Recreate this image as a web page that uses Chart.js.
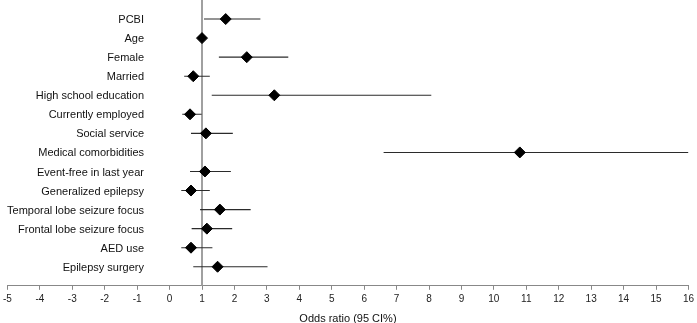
<!DOCTYPE html>
<html>
<head>
<meta charset="utf-8">
<script src="https://cdn.jsdelivr.net/npm/chart.js@4.4.0/dist/chart.umd.min.js"></script>
<style>
  html, body { margin: 0; padding: 0; background: #fff; }
  #wrap { width: 697px; height: 323px; }
</style>
</head>
<body>
<div id="wrap"><canvas id="forest"></canvas></div>
<script>
// 변수 이름 (위에서 아래로)
const factors = [
    "PCBI", "Age", "Female", "Married", "High school education",
    "Currently employed", "Social service", "Medical comorbidities",
    "Event-free in last year", "Generalized epilepsy",
    "Temporal lobe seizure focus", "Frontal lobe seizure focus",
    "AED use", "Epilepsy surgery"
];
// odds ratio + 95% CI
const oddsRatio = [1.73, 1.0, 2.38, 0.73, 3.23, 0.63, 1.12, 10.8, 1.09, 0.66, 1.55, 1.15, 0.66, 1.48];
const ciLow     = [1.06, 0.98, 1.52, 0.45, 1.3, 0.39, 0.66, 6.6, 0.63, 0.36, 0.94, 0.68, 0.36, 0.73];
const ciHigh    = [2.8, 1.02, 3.66, 1.24, 8.07, 0.99, 1.95, 16, 1.89, 1.24, 2.5, 1.93, 1.32, 3.02];
const xTicks = [-5, 16];
const refLine = 1; // 기준선

const FONT = "Liberation Sans, Arial, Helvetica, sans-serif";

// CI 선 - 행마다 dataset 하나
const ciSets = factors.map((f, i) => ({
    type: "line",
    data: [{ x: ciLow[i], y: i + 1 }, { x: ciHigh[i], y: i + 1 }],
    borderColor: "#2b2b2b",
    borderWidth: 1.1,
    pointRadius: 0,
    order: 2
}));

// 라벨 그리기 (차트 안쪽 왼편)
const factorLabels = {
    id: "factorLabels",
    afterDatasetsDraw(chart) {
        const ctx = chart.ctx;
        const ys = chart.scales.y;
        ctx.save();
        ctx.font = "11px " + FONT;
        ctx.fillStyle = "#111";
        ctx.textAlign = "right";
        ctx.textBaseline = "middle";
        factors.forEach((f, i) => {
            ctx.fillText(f, 144, ys.getPixelForValue(i + 1) + 1);
        });
        ctx.restore();
    }
};

new Chart(document.getElementById("forest"), {
    type: "scatter",
    data: {
        datasets: [
            {
                type: "line",
                data: [{ x: refLine, y: 0 }, { x: refLine, y: factors.length + 1 }],
                borderColor: "#a0a0a0",
                borderWidth: 2,
                pointRadius: 0,
                order: 3
            },
            ...ciSets,
            {
                data: oddsRatio.map((v, i) => ({ x: v, y: i + 1 })),
                pointStyle: "rectRot",
                pointRadius: 5.5,
                backgroundColor: "#000",
                borderColor: "#000",
                borderWidth: 1,
                order: 1
            }
        ]
    },
    options: {
        responsive: true,
        maintainAspectRatio: false,
        animation: false,
        layout: { autoPadding: false, padding: { top: 0, left: -2, right: -3, bottom: 0 } },
        plugins: {
            legend: { display: false },
            tooltip: { enabled: false }
        },
        scales: {
            x: {
                type: "linear",
                min: xTicks[0],
                max: xTicks[1],
                ticks: {
                    stepSize: 1,
                    color: "#222",
                    padding: 3,
                    font: { family: FONT, size: 10 }
                },
                grid: {
                    drawOnChartArea: false,
                    tickLength: 4,
                    color: "#888"
                },
                border: { display: true, color: "#888", width: 1 },
                title: {
                    display: true,
                    text: "Odds ratio (95 CI%)",
                    color: "#111",
                    padding: { top: 5, bottom: -3 },
                    font: { family: FONT, size: 11 }
                }
            },
            y: {
                type: "linear",
                display: false,
                reverse: true,
                min: 0,
                max: factors.length + 1
            }
        }
    },
    plugins: [factorLabels]
});
</script>
</body>
</html>
